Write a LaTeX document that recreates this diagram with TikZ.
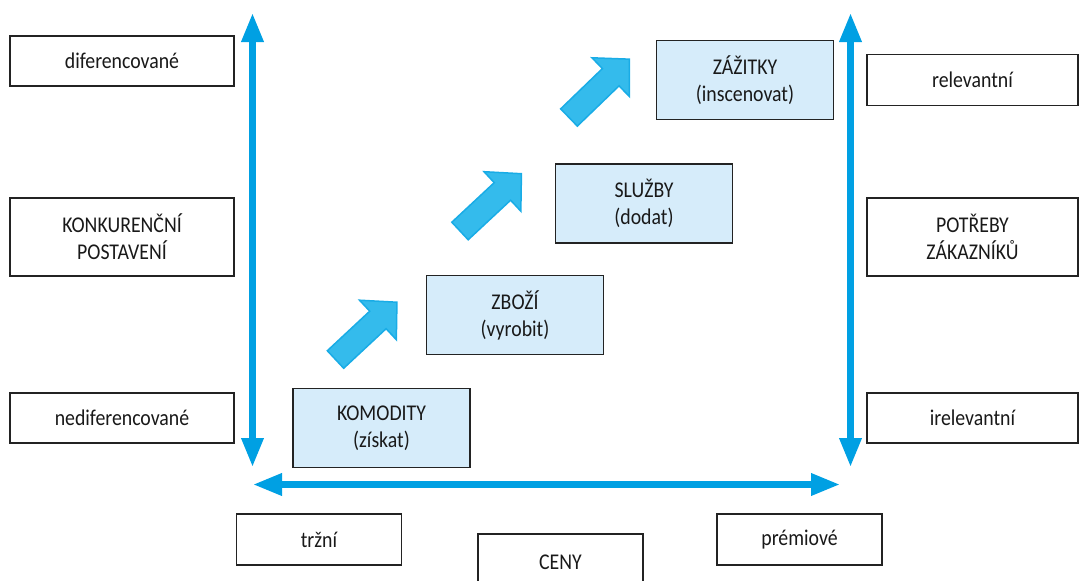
\documentclass[tikz,border=0pt]{standalone}
\usepackage{fontspec}
\setmainfont[FakeStretch=0.88]{Carlito}
\usetikzlibrary{arrows.meta}
\definecolor{axisblue}{RGB}{0,160,227}
\definecolor{arrowfill}{RGB}{52,187,236}
\definecolor{arrowedge}{RGB}{25,172,230}
\definecolor{boxblue}{RGB}{214,236,250}
\definecolor{boxline}{RGB}{35,35,35}
\tikzset{
  lbl/.style={draw=boxline, line width=1.2pt, fill=white, align=center, inner sep=0pt,
    text=black!90, font=\fontsize{22.5}{27}\selectfont},
  stage/.style={lbl, fill=boxblue, minimum width=177pt, minimum height=79pt},
  sidebox/.style={lbl, minimum width=224pt},
  rightbox/.style={lbl, minimum width=211pt},
  bottombox/.style={lbl, minimum width=165pt, minimum height=51pt},
  axis/.style={draw=axisblue, line width=6.5pt,
    {Triangle[length=29pt,width=21pt]}-{Triangle[length=29pt,width=21pt]}},
  blockarrow/.style={fill=arrowfill, draw=arrowedge, line width=1.5pt, line join=miter}
}
\begin{document}
\begin{tikzpicture}[x=1pt,y=1pt]
\useasboundingbox (0,0) rectangle (1080,-581);

% left boxes
\node[sidebox, minimum height=50pt] (dif) at (122,-61) {diferencované};
\node[sidebox, minimum height=78pt] (konk) at (122,-237) {KONKURENČNÍ\\POSTAVENÍ};
\node[sidebox, minimum height=50pt] (nedif) at (122,-418) {nediferencované};

% right boxes
\node[rightbox, minimum height=51pt] (rel) at (972.5,-80) {relevantní};
\node[rightbox, minimum height=78pt] (potr) at (972.5,-237) {POTŘEBY\\ZÁKAZNÍKŮ};
\node[rightbox, minimum height=50pt] (irel) at (972.5,-418) {irelevantní};

% bottom boxes
\node[bottombox] (trz) at (319,-539.5) {tržní};
\node[bottombox, minimum height=56pt] (ceny) at (560.5,-562) {CENY};
\node[bottombox] (prem) at (799.5,-539.5) {prémiové};

% stage boxes
\node[stage] (kom) at (381.5,-428) {KOMODITY\\(získat)};
\node[stage] (zbo) at (515,-315) {ZBOŽÍ\\(vyrobit)};
\node[stage] (slu) at (644,-203.5) {SLUŽBY\\(dodat)};
\node[stage] (zaz) at (745,-80) {ZÁŽITKY\\(inscenovat)};

% axes
\coordinate (ltop) at (252.5,-13);
\coordinate (lbot) at (252.5,-467);
\coordinate (rtop) at (850.5,-13);
\coordinate (rbot) at (850.5,-467);
\coordinate (hl) at (253,-484.5);
\coordinate (hr) at (840,-484.5);
\draw[axis] (ltop) -- (lbot);
\draw[axis] (rtop) -- (rbot);
\draw[axis] (hl) -- (hr);

% block arrows
\foreach \name/\px/\py/\ang in {a1/335.5/-359.5/43, a2/460/-231/43, a3/569/-117.5/44}{
  \begin{scope}[shift={(\px,\py)}, rotate=\ang]
    \coordinate (\name) at (0,0);
    \path[blockarrow] (0,-12) -- (58,-12) -- (58,-27) -- (84,0) -- (58,27) -- (58,12) -- (0,12) -- cycle;
  \end{scope}
}
\end{tikzpicture}
\end{document}
